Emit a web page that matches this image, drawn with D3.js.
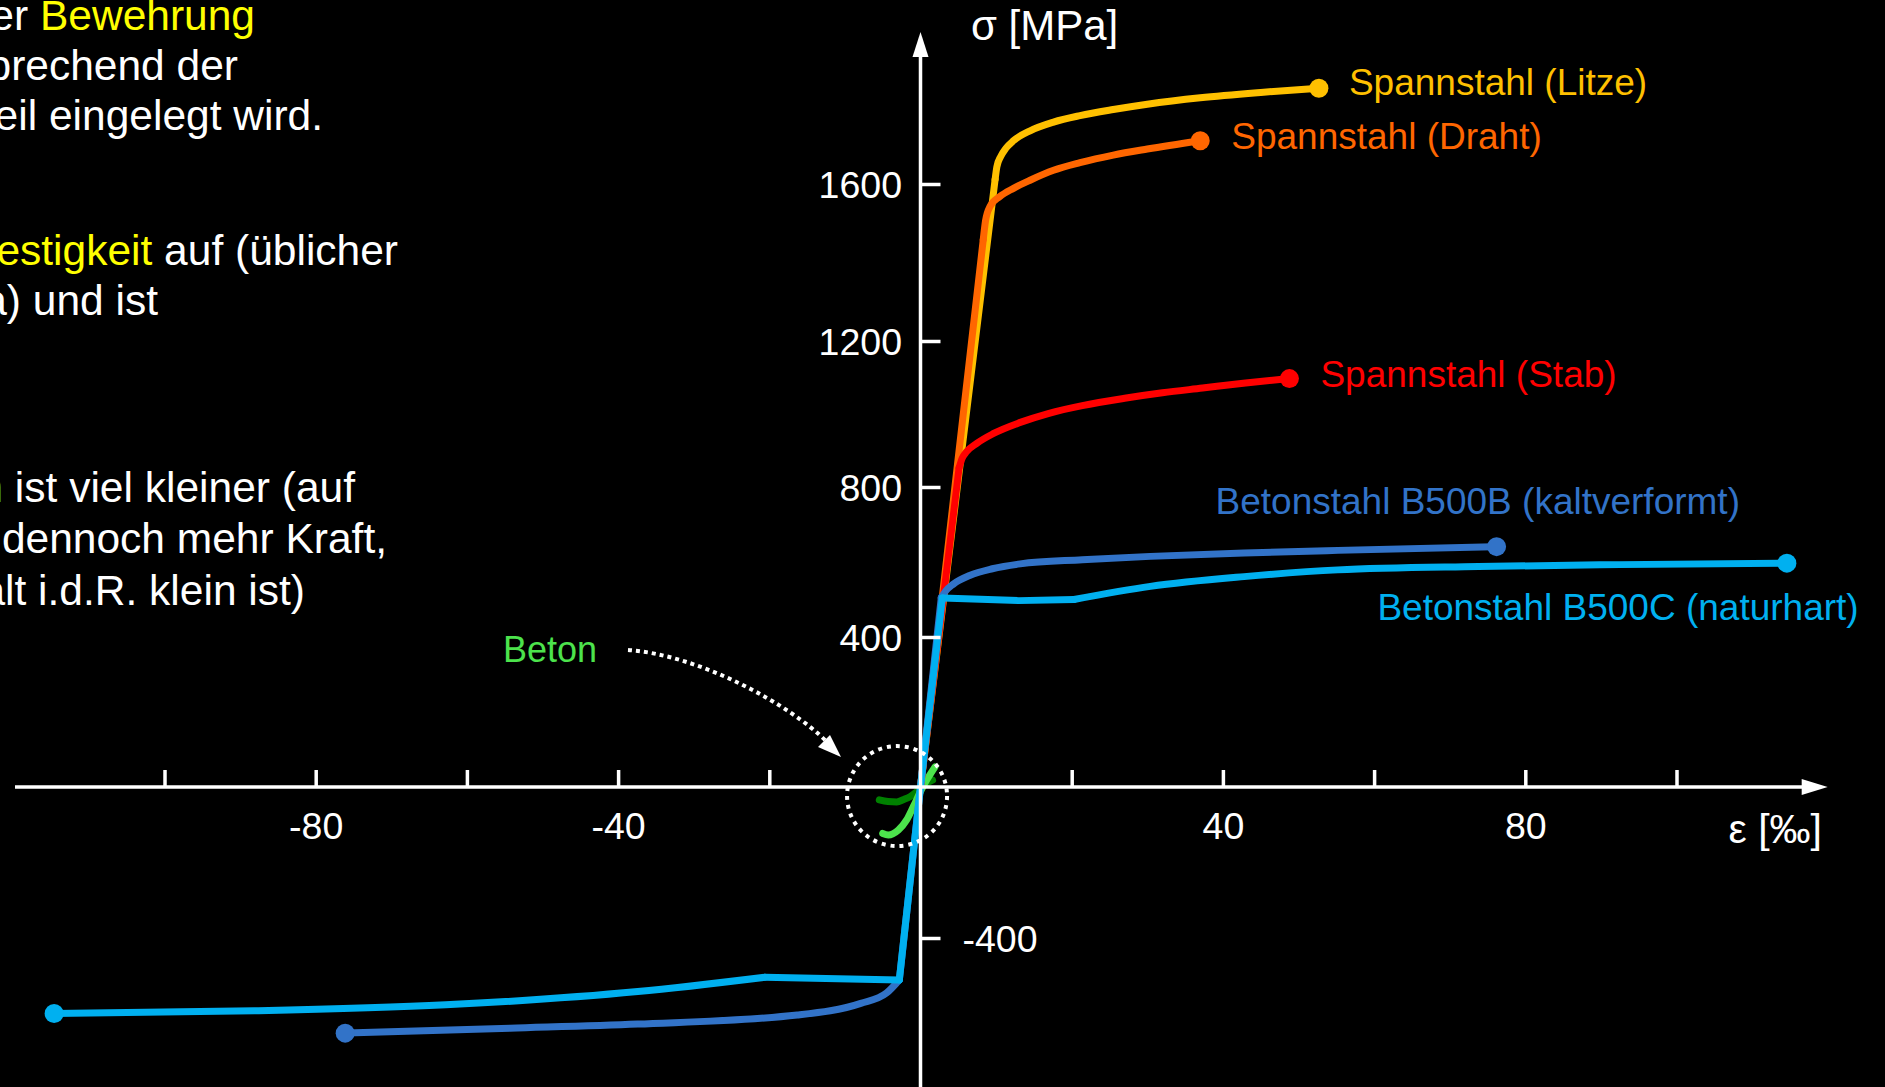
<!DOCTYPE html>
<html>
<head>
<meta charset="utf-8">
<script src="https://cdn.jsdelivr.net/npm/d3@7"></script>
<style>
  html, body { margin: 0; padding: 0; background: #000; overflow: hidden; }
  svg { display: block; }
  text { font-family: "Liberation Sans", Arial, Helvetica, sans-serif; }
</style>
</head>
<body>
<svg id="chart" width="1885" height="1087"></svg>
<script>
// ---- axis ticks ----------------------------------------------------------
const strainTicks   = [-100, -80, -60, -40, -20, 20, 40, 60, 80, 100]; // ‰
const strainLabels  = [-80, -40, 40, 80];
const stressTicksUp = [400, 800, 1200, 1600];                         // MPa
const stressTicksDn = [-400];

// ---- stress-strain curves: [strain ‰, stress MPa] --------------------------
// Spannstahl (Litze)
const litzeElastic = [[0, 0], [9.87, 1612]];
const litzePlastic = [[9.87, 1612], [10.1, 1645], [10.6, 1672], [11.3, 1694], [12.3, 1714],
  [14.5, 1740], [17.6, 1763], [21.1, 1780], [25.5, 1796], [30, 1810], [37, 1827], [45, 1841], [52.7, 1852]];
// Spannstahl (Draht)
const drahtElastic = [[0, 0], [8.3, 1458]];
const drahtPlastic = [[8.3, 1458], [8.6, 1506], [9.2, 1543], [10.5, 1568], [12.3, 1589],
  [14.5, 1610], [17.6, 1636], [21.1, 1656], [25.5, 1676], [30, 1692], [37, 1714]];
// Spannstahl (Stab)
const stabElastic = [[0, 0], [5.1, 852]];
const stabPlastic = [[5.1, 852], [5.5, 878], [6.1, 897], [7.4, 919], [9.6, 946], [13.2, 977],
  [17, 1002], [21.4, 1023], [27, 1043], [32, 1058], [37.3, 1071], [43, 1085], [48.8, 1097]];
// Betonstahl B500B (kaltverformt)
const b500bElastic     = [[-2.8, -511], [0, 0], [2.75, 505]];
const b500bTension     = [[2.75, 505], [3.3, 522], [4.35, 541], [6.5, 564], [9.5, 582], [13.2, 595],
  [21.4, 606], [30.4, 615], [42.8, 624], [55.2, 631], [76.2, 641]];
const b500bCompression = [[-76.1, -652], [-54.3, -639], [-37.4, -628], [-16.3, -604], [-7.9, -573],
  [-4.5, -546], [-2.8, -511]];
// Betonstahl B500C (naturhart)
const b500cElastic      = [[-2.8, -511], [0, 0], [2.9, 504]];
const b500cPlateauT     = [[2.9, 504], [13, 497], [20.3, 500]];
const b500cHardeningT   = [[20.3, 500], [30.4, 535], [42.8, 561], [55.2, 579], [73.8, 588], [92.5, 593], [114.6, 597]];
const b500cPlateauC     = [[-20.6, -504], [-2.8, -511]];
const b500cHardeningC   = [[-114.6, -600], [-88.1, -593], [-62.8, -577], [-37.4, -542], [-20.6, -504]];
// Beton
const betonLight = [[-5.0, -123], [-4.26, -127], [-2.94, -114], [-1.83, -87], [-0.95, -52],
  [0.3, 0], [0.82, 18.5], [1.92, 53.8]];
const betonDark  = [[-5.45, -34], [-4.3, -38.5], [-3.15, -39.5], [-2.2, -33], [-1.39, -25.7],
  [-0.5, -12.5], [0.6, 8], [1.6, 18.5]];

// ---- scales --------------------------------------------------------------
const W = 1885, H = 1087;
const svg = d3.select("#chart");
svg.append("rect").attr("width", W).attr("height", H).attr("fill", "#000");

const x = d3.scaleLinear().domain([-120, 120]).range([13.3, 1827.7]);
// piecewise-linear stress scale following the drawn tick spacing
const y = d3.scaleLinear()
  .domain([-800, -400, 0, 400, 800, 1200, 1600, 2000])
  .range([1089, 938, 787, 637, 487, 341, 184, 32]);

const straight = d3.line().x(d => x(d[0])).y(d => y(d[1])).curve(d3.curveLinear);
const smooth   = d3.line().x(d => x(d[0])).y(d => y(d[1])).curve(d3.curveMonotoneX);

// ---- series table --------------------------------------------------------
const series = [
  { key: "betonDark",  color: "#008000", straight: [], smooth: [betonDark], ends: [] },
  { key: "betonLight", color: "#4CE34C", straight: [], smooth: [betonLight], ends: [] },
  { key: "litze", color: "#FFC000", straight: [litzeElastic], smooth: [litzePlastic],
    ends: [litzePlastic[litzePlastic.length - 1]],
    label: "Spannstahl (Litze)", dx: 30, dy: 7 },
  { key: "draht", color: "#FF6600", straight: [drahtElastic], smooth: [drahtPlastic],
    ends: [drahtPlastic[drahtPlastic.length - 1]],
    label: "Spannstahl (Draht)", dx: 31, dy: 8 },
  { key: "stab", color: "#FF0000", straight: [stabElastic], smooth: [stabPlastic],
    ends: [stabPlastic[stabPlastic.length - 1]],
    label: "Spannstahl (Stab)", dx: 31, dy: 8.5 },
  { key: "b500b", color: "#3273C8", straight: [b500bElastic], smooth: [b500bTension, b500bCompression],
    ends: [b500bTension[b500bTension.length - 1], b500bCompression[0]],
    label: "Betonstahl B500B (kaltverformt)", dx: -281, dy: -33 },
  { key: "b500c", color: "#00B0F0", straight: [b500cElastic, b500cPlateauT, b500cPlateauC],
    smooth: [b500cHardeningT, b500cHardeningC],
    ends: [b500cHardeningT[b500cHardeningT.length - 1], b500cHardeningC[0]],
    label: "Betonstahl B500C (naturhart)", dx: -409.5, dy: 57 }
];

const curves = svg.append("g").attr("class", "curves");
series.forEach(s => {
  const g = curves.append("g").attr("class", s.key);
  s.straight.forEach(pts => g.append("path").attr("d", straight(pts)));
  s.smooth.forEach(pts => g.append("path").attr("d", smooth(pts)));
  g.selectAll("path")
    .attr("fill", "none").attr("stroke", s.color).attr("stroke-width", 7)
    .attr("stroke-linecap", "round").attr("stroke-linejoin", "round");
  g.selectAll("circle").data(s.ends).join("circle")
    .attr("cx", d => x(d[0])).attr("cy", d => y(d[1])).attr("r", 9.5).attr("fill", s.color);
});

// ---- axes ----------------------------------------------------------------
const axes = svg.append("g").attr("class", "axes");
const x0 = x(0), y0 = y(0);

// strain axis with ticks pointing up
const xAxis = d3.axisBottom(x).tickValues(strainTicks).tickSizeInner(-17).tickSizeOuter(0)
  .tickPadding(25).tickFormat(d => strainLabels.includes(d) ? String(d) : "");
const gx = axes.append("g").attr("transform", `translate(0,${y0})`).call(xAxis);
gx.select(".domain").remove();
gx.selectAll(".tick line").attr("stroke", "#fff").attr("stroke-width", 3.5);
gx.selectAll(".tick text").attr("fill", "#fff").attr("font-size", 37.5)
  .attr("font-family", "Liberation Sans, Arial, sans-serif");

// stress axis: positive labels on the left, ticks pointing right
const yAxisUp = d3.axisLeft(y).tickValues(stressTicksUp).tickSizeInner(-20).tickSizeOuter(0)
  .tickPadding(18.5).tickFormat(d => String(d));
const gyU = axes.append("g").attr("transform", `translate(${x0},0)`).call(yAxisUp);
gyU.select(".domain").remove();
const yAxisDn = d3.axisRight(y).tickValues(stressTicksDn).tickSizeInner(20).tickSizeOuter(0)
  .tickPadding(22).tickFormat(d => String(d));
const gyD = axes.append("g").attr("transform", `translate(${x0},0)`).call(yAxisDn);
gyD.select(".domain").remove();
[gyU, gyD].forEach(g => {
  g.selectAll(".tick line").attr("stroke", "#fff").attr("stroke-width", 3.5);
  g.selectAll(".tick text").attr("fill", "#fff").attr("font-size", 37.5).attr("dy", "0.36em")
    .attr("font-family", "Liberation Sans, Arial, sans-serif");
});

// axis lines with arrow heads
axes.append("line").attr("x1", x(-120) + 1.7).attr("x2", x(120) - 20).attr("y1", y0).attr("y2", y0)
  .attr("stroke", "#fff").attr("stroke-width", 3.5);
axes.append("path")
  .attr("d", `M${x(120)},${y0} L${x(120) - 26},${y0 - 8} L${x(120) - 26},${y0 + 8} Z`)
  .attr("fill", "#fff");
axes.append("line").attr("x1", x0).attr("x2", x0).attr("y1", H + 5).attr("y2", y(2000) + 20)
  .attr("stroke", "#fff").attr("stroke-width", 3.5);
axes.append("path")
  .attr("d", `M${x0},${y(2000)} L${x0 - 8},${y(2000) + 25} L${x0 + 8},${y(2000) + 25} Z`)
  .attr("fill", "#fff");

axes.append("text").attr("x", 971).attr("y", 40).attr("fill", "#fff").attr("font-size", 42)
  .text("σ [MPa]");
axes.append("text").attr("x", 1822).attr("y", 843).attr("text-anchor", "end")
  .attr("fill", "#fff").attr("font-size", 41).text("ε [‰]");

// ---- curve labels ----------------------------------------------------------
const labels = svg.append("g").attr("class", "labels");
series.filter(s => s.label).forEach(s => {
  const e = s.ends[0];
  labels.append("text")
    .attr("x", x(e[0]) + s.dx).attr("y", y(e[1]) + s.dy)
    .attr("fill", s.color).attr("font-size", 37).text(s.label);
});

// ---- Beton annotation: dotted circle and dotted arrow -------------------------
const ann = svg.append("g").attr("class", "beton-note");
ann.append("circle").attr("cx", x(-3.1)).attr("cy", y(-24)).attr("r", 50)
  .attr("fill", "none").attr("stroke", "#fff").attr("stroke-width", 4)
  .attr("stroke-dasharray", "4 5");
ann.append("path").attr("d", "M628,650 C700,655 790,705 826,741")
  .attr("fill", "none").attr("stroke", "#fff").attr("stroke-width", 4)
  .attr("stroke-dasharray", "4 4");
ann.append("path").attr("d", "M841,757 L818,747 L830,735 Z").attr("fill", "#fff");
ann.append("text").attr("x", 503).attr("y", 662).attr("fill", "#4CE34C").attr("font-size", 36)
  .text("Beton");

// ---- explanatory text on the left (partly outside the page) --------------------
const para = [
  { x: 255, y: 30,  parts: [["Im Stahlbetonbau sorgt die Lage der ", "#fff"], ["Bewehrung", "#FFFF00"]] },
  { x: 238, y: 80,  parts: [["dafür, dass sie entsprechend der", "#fff"]] },
  { x: 323, y: 130, parts: [["Beanspruchung ins Bauteil eingelegt wird.", "#fff"]] },
  { x: 398, y: 265, parts: [["Stahl weist eine hohe ", "#fff"], ["Zugfestigkeit", "#FFFF00"], [" auf (üblicher", "#fff"]] },
  { x: 158, y: 315, parts: [["Betonstahl: 500 MPa) und ist", "#fff"]] },
  { x: 355, y: 502, parts: [["Die Zugfestigkeit von ", "#fff"], ["Beton", "#4CE34C"], [" ist viel kleiner (auf", "#fff"]] },
  { x: 387, y: 553, parts: [["ca. 1/10), Beton trägt aber dennoch mehr Kraft,", "#fff"]] },
  { x: 305, y: 605, parts: [["da der Bewehrungsgehalt i.d.R. klein ist)", "#fff"]] }
];
const txt = svg.append("g").attr("class", "paragraph");
para.forEach(l => {
  const t = txt.append("text").attr("x", l.x).attr("y", l.y).attr("text-anchor", "end")
    .attr("font-size", 42.5);
  l.parts.forEach(p => t.append("tspan").attr("fill", p[1]).text(p[0]));
});
</script>
</body>
</html>
